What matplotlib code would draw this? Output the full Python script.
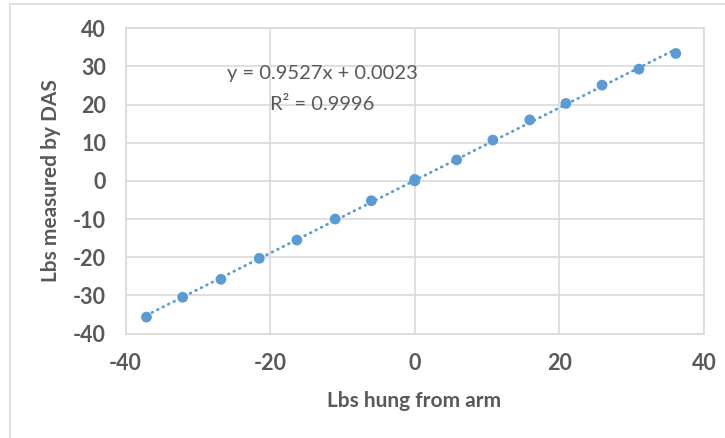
import matplotlib
matplotlib.use("Agg")
import matplotlib.pyplot as plt
import numpy as np
from matplotlib.patches import Rectangle

# Data
x_lbs_hung = [-37.1, -32.1, -26.8, -21.5, -16.3, -11.0, -6.0, 0.0, 0.0,
              5.8, 10.8, 15.9, 20.9, 25.9, 31.0, 36.1]
y_lbs_das = [-35.7, -30.5, -25.8, -20.3, -15.5, -10.0, -5.2, 0.0, 0.4,
             5.5, 10.7, 16.0, 20.3, 25.1, 29.3, 33.4]
x_ticks = [-40, -20, 0, 20, 40]
y_ticks = [-40, -30, -20, -10, 0, 10, 20, 30, 40]
eq_text = "y = 0.9527x + 0.0023"
r2_text = "R² = 0.9996"
x_label = "Lbs hung from arm"
y_label = "Lbs measured by DAS"

plt.rcParams['font.family'] = ['Lato', 'DejaVu Sans']
plt.rcParams['axes.unicode_minus'] = False

W, H = 725, 438
fig = plt.figure(figsize=(W / 100, H / 100), dpi=100)
ax = fig.add_axes([125.5 / W, 1 - 333.5 / H, (704 - 125.5) / W, (333.5 - 28.3) / H])

blue = '#5B9BD5'
grey_txt = '#595959'
grid_c = '#D9D9D9'

# trendline from linear fit over the data range
xs = np.array(x_lbs_hung)
ys = np.array(y_lbs_das)
m, b = np.polyfit(xs, ys, 1)
xl = np.array([xs.min(), xs.max()])
ax.plot(xl, m * xl + b, color=blue, lw=2.0, linestyle=(0, (0.3, 1.9)),
        dash_capstyle='round', zorder=2)
ax.scatter(xs, ys, s=60, color=blue, edgecolors='none', zorder=3)

ax.set_xlim(-40, 40)
ax.set_ylim(-40, 40)
ax.set_xticks(x_ticks)
ax.set_yticks(y_ticks)
ax.grid(True, color=grid_c, lw=1.2)
ax.set_axisbelow(True)
for s in ax.spines.values():
    s.set_color(grid_c)
    s.set_linewidth(1.2)
ax.tick_params(length=0, labelsize=15.5, labelcolor=grey_txt, pad=14)
for lab in ax.get_xticklabels() + ax.get_yticklabels():
    lab.set_fontweight('bold')

fig.text(414 / W, 1 - 401 / H, x_label, ha='center', va='center',
         fontsize=15, fontweight='bold', color=grey_txt)
fig.text(51 / W, 1 - 181 / H, y_label, ha='center', va='center', rotation=90,
         fontsize=15, fontweight='bold', color=grey_txt)

fig.text(322 / W, 1 - 74 / H, eq_text, ha='center', va='center',
         fontsize=14.5, color=grey_txt)
fig.text(322 / W, 1 - 104 / H, r2_text, ha='center', va='center',
         fontsize=14.5, color=grey_txt)

# outer chart border
fig.patches.append(Rectangle((10 / W, -0.1), 1.1, 1 - 4 / H + 0.1,
                             transform=fig.transFigure, fill=False,
                             edgecolor=grid_c, lw=1.2))

fig.savefig('out.png', dpi=100)
